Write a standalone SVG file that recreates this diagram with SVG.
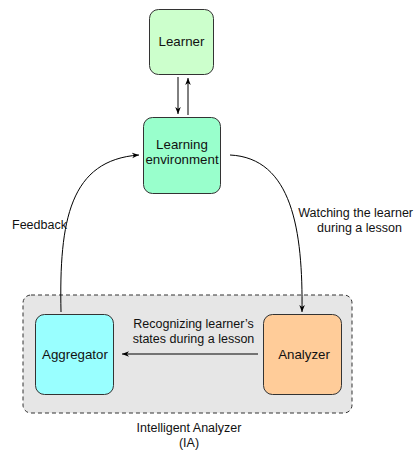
<svg xmlns="http://www.w3.org/2000/svg" width="414" height="451" viewBox="0 0 414 451">
<defs>
<style>
.node{stroke:#333;stroke-width:1}
.lbl{font-family:"Liberation Sans",Arial,sans-serif;font-size:13.3px;fill:#111;text-anchor:middle}
.txt{font-family:"Liberation Sans",Arial,sans-serif;font-size:12.5px;fill:#111}
.edge{fill:none;stroke:#000;stroke-width:1}
</style>
<marker id="arr" viewBox="0 0 10 10" refX="10" refY="5" markerWidth="7" markerHeight="7" orient="auto" markerUnits="userSpaceOnUse">
<path d="M0,1 L10,5 L0,9 L3,5 Z" fill="#000"/>
</marker>
</defs>
<rect width="414" height="451" fill="#fff"/>
<g id="ia-group">
<rect x="23" y="295" width="329" height="118" rx="8" fill="#e6e6e6" stroke="#333" stroke-dasharray="4,3"/>
<text class="txt" x="189" y="432" text-anchor="middle">Intelligent Analyzer</text>
<text class="txt" x="189" y="447" text-anchor="middle">(IA)</text>
</g>
<g id="learner">
<rect class="node" x="149.5" y="9.5" width="64" height="65" rx="9" fill="#ccffcc"/>
<text class="lbl" x="181.5" y="46">Learner</text>
</g>
<g id="learning-environment">
<rect class="node" x="143.5" y="117.5" width="77" height="76" rx="9" fill="#99ffcc"/>
<text class="lbl" x="182" y="149">Learning</text>
<text class="lbl" x="182" y="164">environment</text>
</g>
<g id="aggregator">
<rect class="node" x="35.5" y="314.5" width="78" height="80" rx="9" fill="#99ffff"/>
<text class="lbl" x="75" y="359">Aggregator</text>
</g>
<g id="analyzer">
<rect class="node" x="263.5" y="314.5" width="78" height="80" rx="9" fill="#ffcc99"/>
<text class="lbl" x="304" y="359">Analyzer</text>
</g>
<g id="connectors">
<path class="edge" d="M178,77 L178,114" marker-end="url(#arr)"/>
<path class="edge" d="M188,115 L188,78" marker-end="url(#arr)"/>
<path class="edge" d="M61,312 C59,220 70,160 139,155" marker-end="url(#arr)"/>
<path class="edge" d="M230,155 C292,158 303,230 302,312" marker-end="url(#arr)"/>
<path class="edge" d="M258,354 L122,354" marker-end="url(#arr)"/>
<text class="txt" x="12" y="229">Feedback</text>
<text class="txt" x="413" y="217" text-anchor="end">Watching the learner</text>
<text class="txt" x="359.5" y="232" text-anchor="middle">during a lesson</text>
<text class="txt" x="193.5" y="328" text-anchor="middle">Recognizing learner’s</text>
<text class="txt" x="193.5" y="343" text-anchor="middle">states during a lesson</text>
</g>
</svg>
